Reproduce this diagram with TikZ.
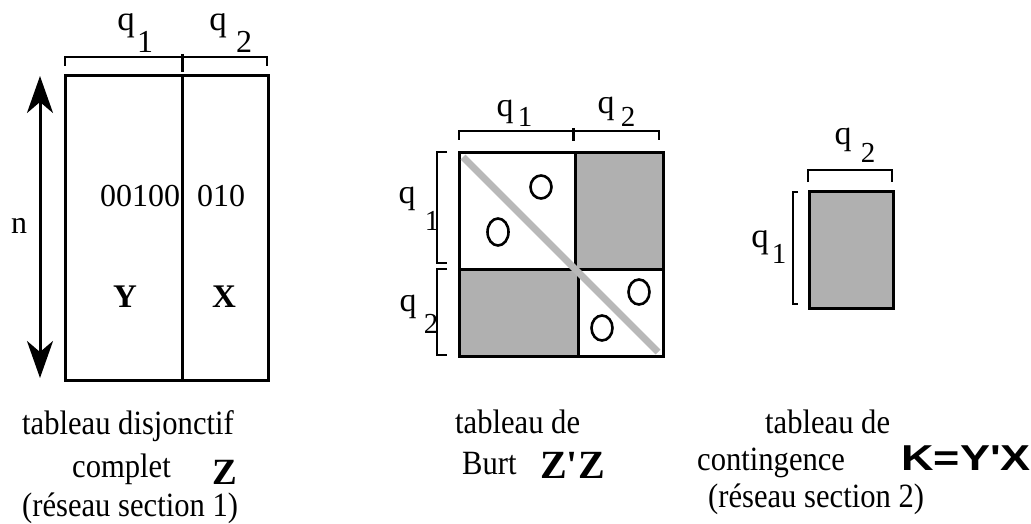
\documentclass[tikz,border=0pt]{standalone}
\usepackage{fontspec}
\usepackage{graphicx}
\setmainfont{Liberation Serif}
\newfontfamily\capfont[FakeStretch=0.9]{Liberation Serif}
\newfontfamily\hvfont{Liberation Sans}
\usetikzlibrary{arrows.meta}
\definecolor{blockgray}{RGB}{176,176,176}
\definecolor{bandgray}{RGB}{184,184,184}
\tikzset{
  frame/.style={line width=3pt, line cap=rect},
  bracket/.style={line width=2.6pt},
  txt/.style={inner sep=0pt, anchor=base west, font=\fontsize{34}{40}\capfont},
  lbl/.style={inner sep=0pt, anchor=base, font=\fontsize{32}{37}\selectfont},
  qbig/.style={inner sep=0pt, anchor=base, font=\fontsize{35}{40}\selectfont},
  mlbl/.style={inner sep=0pt, anchor=base, font=\fontsize{29}{32}\selectfont},
  mq/.style={inner sep=0pt, anchor=base, font=\fontsize{34}{38}\selectfont},
  bigb/.style={inner sep=0pt, anchor=base west, font=\fontsize{37}{40}\selectfont\bfseries},
  zero/.style={line width=2.6pt},
}
\begin{document}
\begin{tikzpicture}[x=1pt,y=-1pt]
\useasboundingbox (0,0) rectangle (1031,524);

% ---------------- left figure: Z
\draw[frame] (65,76) rectangle (268,380);
\draw[frame] (182,76) -- (182,380);
\draw[bracket] (65,66) -- (65,57) -- (267,57) -- (267,66);
\draw[line width=3pt] (182,54) -- (182,72);
\node[qbig] (q1a) at (126,31) {q};
\node[lbl] (s1a) at (145,53) {1};
\node[qbig] (q2a) at (218,31) {q};
\node[lbl] (s2a) at (244,53) {2};
\coordinate (ntop) at (40,76);
\coordinate (nbot) at (40,378);
\draw[line width=3pt, {Stealth[length=37pt,width=26pt,inset=11pt]}-{Stealth[length=37pt,width=26pt,inset=11pt]}] (ntop) -- (nbot);
\node[lbl] (n) at (19,233) {n};
\node[lbl] (d1) at (140,207) {00100};
\node[lbl] (d2) at (221,207) {010};
\node[lbl, font=\fontsize{33}{37}\selectfont\bfseries] (Y) at (125,307) {Y};
\node[lbl, font=\fontsize{33}{37}\selectfont\bfseries] (X) at (224,307) {X};

% ---------------- middle figure: Burt
\fill[blockgray] (576,153) rectangle (663,269);
\fill[blockgray] (459,269) rectangle (577,356);
\draw[frame] (459,153) rectangle (663,356);
\draw[frame] (575,153) -- (575,269);
\draw[frame] (578,269) -- (578,356);
\draw[frame] (459,269) -- (663,269);
\draw[line width=7pt, bandgray] (463,157) -- (658,352);
\draw[bracket] (459,140) -- (459,131) -- (659,131) -- (659,140);
\draw[line width=3pt] (573,128) -- (573,141);
\draw[bracket] (447,152) -- (437,152) -- (437,263) -- (447,263);
\draw[bracket] (447,269) -- (437,269) -- (437,355) -- (447,355);
\node[mq] (q1b) at (505,117) {q};
\node[mlbl] (s1b) at (525,127) {1};
\node[mq] (q2b) at (606,114) {q};
\node[mlbl] (s2b) at (628,127) {2};
\node[mq] (q1c) at (407,204) {q};
\node[mlbl] (s1c) at (432,230) {1};
\node[mq] (q2c) at (408,311) {q};
\node[mlbl] (s2c) at (431,333) {2};
\draw[zero] (541,187) ellipse [x radius=10.5pt, y radius=11.5pt];
\draw[zero] (498,232) ellipse [x radius=10.5pt, y radius=13.5pt];
\draw[zero] (639,292) ellipse [x radius=10.5pt, y radius=12.5pt];
\draw[zero] (602,328) ellipse [x radius=10.5pt, y radius=12.5pt];

% ---------------- right figure: K
\fill[blockgray] (809,191) rectangle (893,308);
\draw[frame] (809,191) rectangle (893,308);
\draw[bracket] (808,182) -- (808,170) -- (892,170) -- (892,182);
\draw[bracket] (798,192) -- (793,192) -- (793,304) -- (798,304);
\node[mq] (q2d) at (843,145) {q};
\node[mlbl] (s2d) at (868,163) {2};
\node[qbig] (q1d) at (760,247) {q};
\node[mlbl] (s1d) at (779,263) {1};

% ---------------- captions
\node[txt] (c1a) at (22,434) {tableau disjonctif};
\node[txt] (c1b) at (72,477) {complet};
\node[bigb] (c1z) at (212,484) {Z};
\node[txt] (c1c) at (22,516) {(réseau section 1)};

\node[txt] (c2a) at (455,433) {tableau de};
\node[txt] (c2b) at (462,474) {Burt};
\node[bigb, font=\fontsize{40}{44}\selectfont\bfseries] (c2z) at (540,478) {Z\textquotesingle Z};

\node[txt] (c3a) at (765,433) {tableau de};
\node[txt] (c3b) at (697,470) {contingence};
\node[inner sep=0pt, anchor=base east, font=\fontsize{36}{40}\selectfont\hvfont\bfseries] (c3k) at (1031,470) {\scalebox{1.25}[1]{K=Y\textquotesingle X}};
\node[txt] (c3c) at (708,507) {(réseau section 2)};
\end{tikzpicture}
\end{document}
